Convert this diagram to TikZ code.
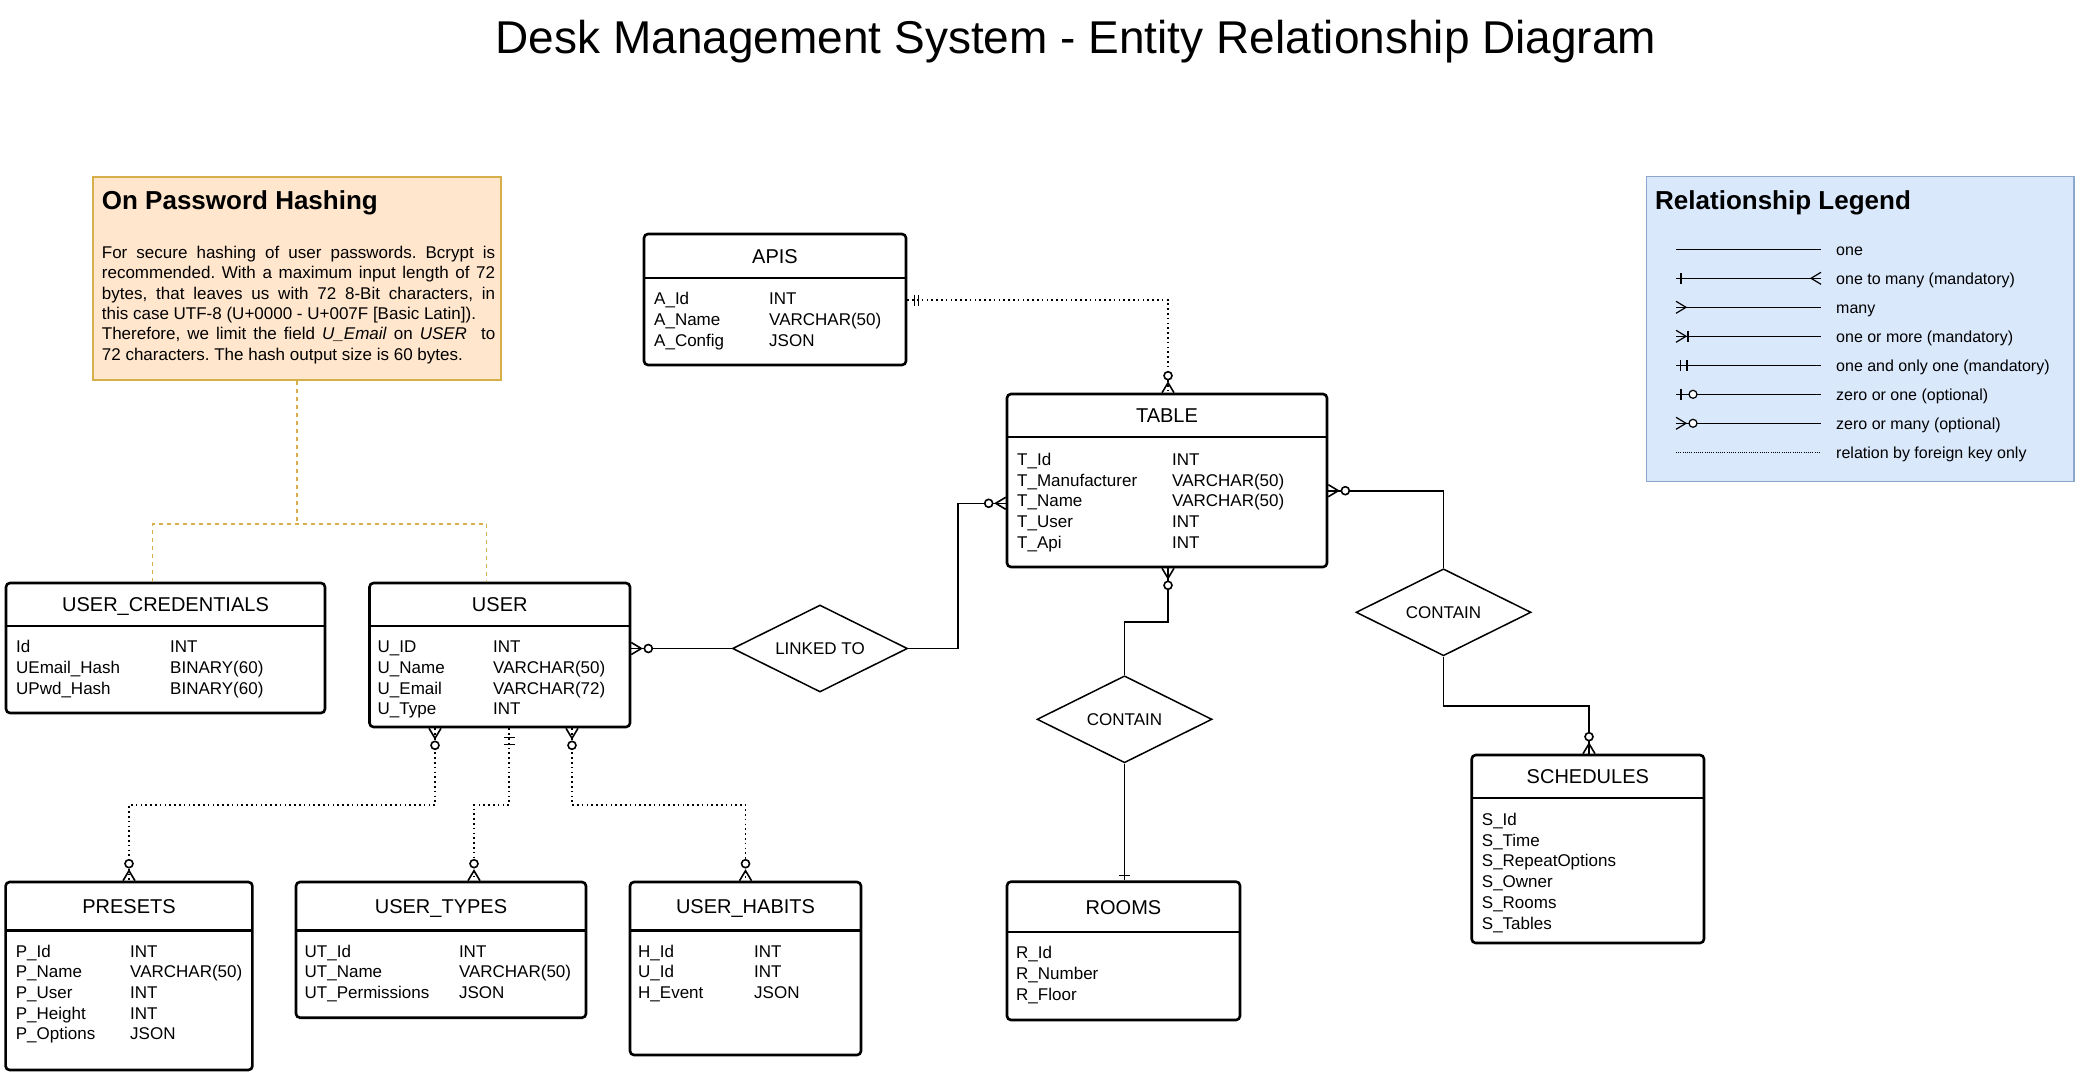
\documentclass[tikz,border=0pt]{standalone}
\usepackage{fontspec}
\setmainfont{Liberation Sans}
\frenchspacing
\usetikzlibrary{shapes.geometric,fit}
\definecolor{notefill}{HTML}{FFE6CC}
\definecolor{notedraw}{HTML}{D6AE4A}
\definecolor{legfill}{HTML}{DAE8FC}
\definecolor{legdraw}{HTML}{8DA6CC}
\tikzset{
 entbox/.style={draw, line width=2.6pt, rounded corners=4pt, inner sep=0pt, fill=white},
 entsep/.style={line width=2.6pt},
 hdr/.style={anchor=base, font=\fontsize{20}{24}\selectfont, inner sep=0pt},
 fld/.style={anchor=base west, font=\fontsize{17}{20}\selectfont, inner sep=0pt},
 rel/.style={draw, diamond, line width=1.5pt, minimum width=175pt, minimum height=87pt, inner sep=0pt, aspect=2, font=\fontsize{17}{20}\selectfont, fill=white},
 conn/.style={line width=1.6pt},
 fk/.style={line width=1.6pt, dash pattern=on 1.6pt off 3.2pt},
 golddash/.style={draw=notedraw, line width=1.4pt, dash pattern=on 4pt off 4pt},
 mk/.style={line width=1.6pt},
 notetxt/.style={anchor=base west, inner sep=0pt, font=\fontsize{17}{20}\selectfont},
 legtxt/.style={anchor=base west, inner sep=0pt, font=\fontsize{16}{19}\selectfont},
 boxtitle/.style={anchor=base west, inner sep=0pt, font=\bfseries\fontsize{26}{30}\selectfont},
 pics/crowfoot/.style={code={\draw[mk] (0,-6) -- (10,0) -- (0,6);}},
 pics/tick/.style={code={\draw[mk] (#1,-5.5) -- (#1,5.5);}},
 pics/ocirc/.style={code={\draw[mk, fill=white] (#1,0) circle[radius=4pt];}},
 pics/zmany/.style={code={\draw[mk] (0,-6) -- (10,0) -- (0,6); \draw[mk, fill=white] (17,0) circle[radius=4pt];}},
}
\newcommand\mkentity[7]{%
 \node[entbox, fit={(#2,#3) (#4,#5)}] (#1) {};
 \draw[entsep] (#2,#6) -- (#4,#6);
 \node[hdr] (#1-h) at ({(#2+#4)/2},{(#3+#6)/2+7.2}) {#7};
}
\begin{document}
\begin{tikzpicture}[x=1pt,y=-1pt]
\useasboundingbox (0,0) rectangle (2079,1086);
\fill[white] (0,0) rectangle (2079,1086);

% title
\node[anchor=base, inner sep=0pt, font=\fontsize{46}{55}\selectfont] (title) at (1076,54) {Desk Management System - Entity Relationship Diagram};

% password note
\node[draw=notedraw, fill=notefill, line width=1.4pt, inner sep=0pt, fit={(93,177) (501,380)}] (note) {};
\node[boxtitle] (note-t) at (101.7,209) {On Password Hashing};
\node[notetxt] (note-l1) at (101.7,258.5) {\makebox[393.3pt][s]{For secure hashing of user passwords. Bcrypt is}};
\node[notetxt] (note-l2) at (101.7,278.8) {\makebox[393.3pt][s]{recommended. With a maximum input length of 72}};
\node[notetxt] (note-l3) at (101.7,299.1) {\makebox[393.3pt][s]{bytes, that leaves us with 72 8-Bit characters, in}};
\node[notetxt] (note-l4) at (101.7,319.4) {this case UTF-8 (U+0000 - U+007F [Basic Latin]).};
\node[notetxt] (note-l5) at (101.7,339.7) {\makebox[393.3pt][s]{Therefore, we limit the field \textit{U\_Email} on \textit{USER}\ \ to}};
\node[notetxt] (note-l6) at (101.7,360) {72 characters. The hash output size is 60 bytes.};

% legend
\node[draw=legdraw, fill=legfill, line width=1.4pt, inner sep=0pt, fit={(1646.7,176.7) (2074,481.7)}] (legend) {};
\node[boxtitle] (legend-t) at (1655,209) {Relationship Legend};
\begin{scope}[mk/.style={line width=1.2pt}]
 \draw[mk] (1676,249.3) -- (1821,249.3);
 \draw[mk] (1676,278.3) -- (1821,278.3);
 \pic at (1676,278.3) {tick=5};
 \pic[rotate=180] at (1821,278.3) {crowfoot};
 \draw[mk] (1676,307.3) -- (1821,307.3);
 \pic at (1676,307.3) {crowfoot};
 \draw[mk] (1676,336.3) -- (1821,336.3);
 \pic at (1676,336.3) {crowfoot};
 \pic at (1676,336.3) {tick=12};
 \draw[mk] (1676,365.3) -- (1821,365.3);
 \pic at (1676,365.3) {tick=4.5};
 \pic at (1676,365.3) {tick=11};
 \draw[mk] (1676,394.3) -- (1821,394.3);
 \pic at (1676,394.3) {tick=5};
 \pic at (1676,394.3) {ocirc=17};
 \draw[mk] (1676,423.3) -- (1821,423.3);
 \pic at (1676,423.3) {crowfoot};
 \pic at (1676,423.3) {ocirc=17};
 \draw[line width=1.1pt, dash pattern=on 0.8pt off 1.4pt] (1676,452.7) -- (1821,452.7);
\end{scope}
\node[legtxt] (lg1) at (1836,255.3) {one};
\node[legtxt] (lg2) at (1836,284.3) {one to many (mandatory)};
\node[legtxt] (lg3) at (1836,313.3) {many};
\node[legtxt] (lg4) at (1836,342.3) {one or more (mandatory)};
\node[legtxt] (lg5) at (1836,371.3) {one and only one (mandatory)};
\node[legtxt] (lg6) at (1836,400.3) {zero or one (optional)};
\node[legtxt] (lg7) at (1836,429.3) {zero or many (optional)};
\node[legtxt] (lg8) at (1836,458.7) {relation by foreign key only};

% entities
\mkentity{apis}{644}{234}{906}{365}{278}{APIS}
\node[fld] (apis-a1) at (654,304) {A\_Id};      \node[fld] (apis-b1) at (769,304) {INT};
\node[fld] (apis-a2) at (654,325) {A\_Name};    \node[fld] (apis-b2) at (769,325) {VARCHAR(50)};
\node[fld] (apis-a3) at (654,346) {A\_Config};  \node[fld] (apis-b3) at (769,346) {JSON};

\mkentity{table}{1007}{394}{1327}{567}{437}{TABLE}
\node[fld] (table-a1) at (1017,465.5) {T\_Id};           \node[fld] (table-b1) at (1172,465.5) {INT};
\node[fld] (table-a2) at (1017,486.2) {T\_Manufacturer}; \node[fld] (table-b2) at (1172,486.2) {VARCHAR(50)};
\node[fld] (table-a3) at (1017,506.9) {T\_Name};         \node[fld] (table-b3) at (1172,506.9) {VARCHAR(50)};
\node[fld] (table-a4) at (1017,527.6) {T\_User};         \node[fld] (table-b4) at (1172,527.6) {INT};
\node[fld] (table-a5) at (1017,548.3) {T\_Api};          \node[fld] (table-b5) at (1172,548.3) {INT};

\mkentity{ucred}{6}{583}{325}{713}{626}{USER\_CREDENTIALS}
\node[fld] (ucred-a1) at (16,652.8) {Id};           \node[fld] (ucred-b1) at (170,652.8) {INT};
\node[fld] (ucred-a2) at (16,673.5) {UEmail\_Hash}; \node[fld] (ucred-b2) at (170,673.5) {BINARY(60)};
\node[fld] (ucred-a3) at (16,694.2) {UPwd\_Hash};   \node[fld] (ucred-b3) at (170,694.2) {BINARY(60)};

\mkentity{user}{369.5}{583}{630}{727}{626}{USER}
\node[fld] (user-a1) at (377.5,652.8) {U\_ID};    \node[fld] (user-b1) at (493,652.8) {INT};
\node[fld] (user-a2) at (377.5,673.5) {U\_Name};  \node[fld] (user-b2) at (493,673.5) {VARCHAR(50)};
\node[fld] (user-a3) at (377.5,694.2) {U\_Email}; \node[fld] (user-b3) at (493,694.2) {VARCHAR(72)};
\node[fld] (user-a4) at (377.5,714.9) {U\_Type};  \node[fld] (user-b4) at (493,714.9) {INT};

\mkentity{presets}{5.6}{882}{252.4}{1070}{930.7}{PRESETS}
\node[fld] (presets-a1) at (15.7,957)    {P\_Id};      \node[fld] (presets-b1) at (130,957)    {INT};
\node[fld] (presets-a2) at (15.7,977.7)  {P\_Name};    \node[fld] (presets-b2) at (130,977.7)  {VARCHAR(50)};
\node[fld] (presets-a3) at (15.7,998.4)  {P\_User};    \node[fld] (presets-b3) at (130,998.4)  {INT};
\node[fld] (presets-a4) at (15.7,1019.1) {P\_Height};  \node[fld] (presets-b4) at (130,1019.1) {INT};
\node[fld] (presets-a5) at (15.7,1039.8) {P\_Options}; \node[fld] (presets-b5) at (130,1039.8) {JSON};

\mkentity{utypes}{296}{882}{586}{1017.7}{930.7}{USER\_TYPES}
\node[fld] (utypes-a1) at (304.5,957)   {UT\_Id};          \node[fld] (utypes-b1) at (458.8,957)   {INT};
\node[fld] (utypes-a2) at (304.5,977.7) {UT\_Name};        \node[fld] (utypes-b2) at (458.8,977.7) {VARCHAR(50)};
\node[fld] (utypes-a3) at (304.5,998.4) {UT\_Permissions}; \node[fld] (utypes-b3) at (458.8,998.4) {JSON};

\mkentity{uhabits}{630}{882}{861}{1055}{930.7}{USER\_HABITS}
\node[fld] (uhabits-a1) at (638,957)   {H\_Id};    \node[fld] (uhabits-b1) at (754,957)   {INT};
\node[fld] (uhabits-a2) at (638,977.7) {U\_Id};    \node[fld] (uhabits-b2) at (754,977.7) {INT};
\node[fld] (uhabits-a3) at (638,998.4) {H\_Event}; \node[fld] (uhabits-b3) at (754,998.4) {JSON};

\mkentity{rooms}{1007}{881.7}{1240}{1020}{932}{ROOMS}
\node[fld] (rooms-a1) at (1016,958)  {R\_Id};
\node[fld] (rooms-a2) at (1016,979)  {R\_Number};
\node[fld] (rooms-a3) at (1016,1000) {R\_Floor};

\mkentity{schedules}{1471.7}{755}{1704}{943}{798}{SCHEDULES}
\node[fld] (sch-a1) at (1481.7,825.5) {S\_Id};
\node[fld] (sch-a2) at (1481.7,846.2) {S\_Time};
\node[fld] (sch-a3) at (1481.7,866.9) {S\_RepeatOptions};
\node[fld] (sch-a4) at (1481.7,887.6) {S\_Owner};
\node[fld] (sch-a5) at (1481.7,908.3) {S\_Rooms};
\node[fld] (sch-a6) at (1481.7,929)   {S\_Tables};

% relationships
\node[rel] (linked) at (820,648.5) {LINKED TO};
\node[rel] (contain1) at (1124.5,719.3) {CONTAIN};
\node[rel] (contain2) at (1443.5,612.3) {CONTAIN};

% connectors
\draw[conn] (user.east |- linked.west) -- (linked.west);
\pic at (user.east |- linked.west) {zmany};

\coordinate (lk) at (958,503.3);
\draw[conn] (linked.east) -| (lk) -- (table.west |- lk);
\pic[rotate=180] at (table.west |- lk) {zmany};

\coordinate (ak) at (1168,300);
\draw[fk] (apis.east |- ak) -- (ak) -- (table.north -| ak);
\pic at (apis.east |- ak) {tick=7};
\pic at (apis.east |- ak) {tick=11};
\pic[rotate=90] at (table.north -| ak) {zmany};

\coordinate (tc1) at (1168,622);
\draw[conn] (table.south -| tc1) -- (tc1) -| (contain1.north);
\pic[rotate=-90] at (table.south -| tc1) {zmany};

\draw[conn] (contain1.south) -- (rooms.north -| contain1.south);
\pic[rotate=90] at (rooms.north -| contain1.south) {tick=5};

\coordinate (tc2) at (1443.5,490.7);
\draw[conn] (table.east |- tc2) -- (tc2) -- (contain2.north);
\pic at (table.east |- tc2) {zmany};

\coordinate (sc) at (1589,705.7);
\draw[conn] (contain2.south) |- (sc) -- (schedules.north -| sc);
\pic[rotate=90] at (schedules.north -| sc) {zmany};

\coordinate (pk1) at (435,805);
\draw[fk] (user.south -| pk1) -- (pk1) -| (presets.north);
\pic[rotate=-90] at (user.south -| pk1) {zmany};
\pic[rotate=90] at (presets.north) {zmany};

\coordinate (pk2) at (509,805);
\coordinate (pk2b) at (474,805);
\draw[fk] (user.south -| pk2) -- (pk2) -- (pk2b) -- (utypes.north -| pk2b);
\pic[rotate=-90] at (user.south -| pk2) {tick=9};
\pic[rotate=-90] at (user.south -| pk2) {tick=16};
\pic[rotate=90] at (utypes.north -| pk2b) {zmany};

\coordinate (pk3) at (572,805);
\draw[fk] (user.south -| pk3) -- (pk3) -| (uhabits.north);
\pic[rotate=-90] at (user.south -| pk3) {zmany};
\pic[rotate=90] at (uhabits.north) {zmany};

% note connectors
\coordinate (nj) at (297,524);
\coordinate (nl) at (152.5,524);
\coordinate (nr) at (486.6,524);
\draw[golddash] (note.south) -- (nj);
\draw[golddash] (ucred.north -| nl) -- (nl) -- (nr) -- (user.north -| nr);
\end{tikzpicture}
\end{document}
